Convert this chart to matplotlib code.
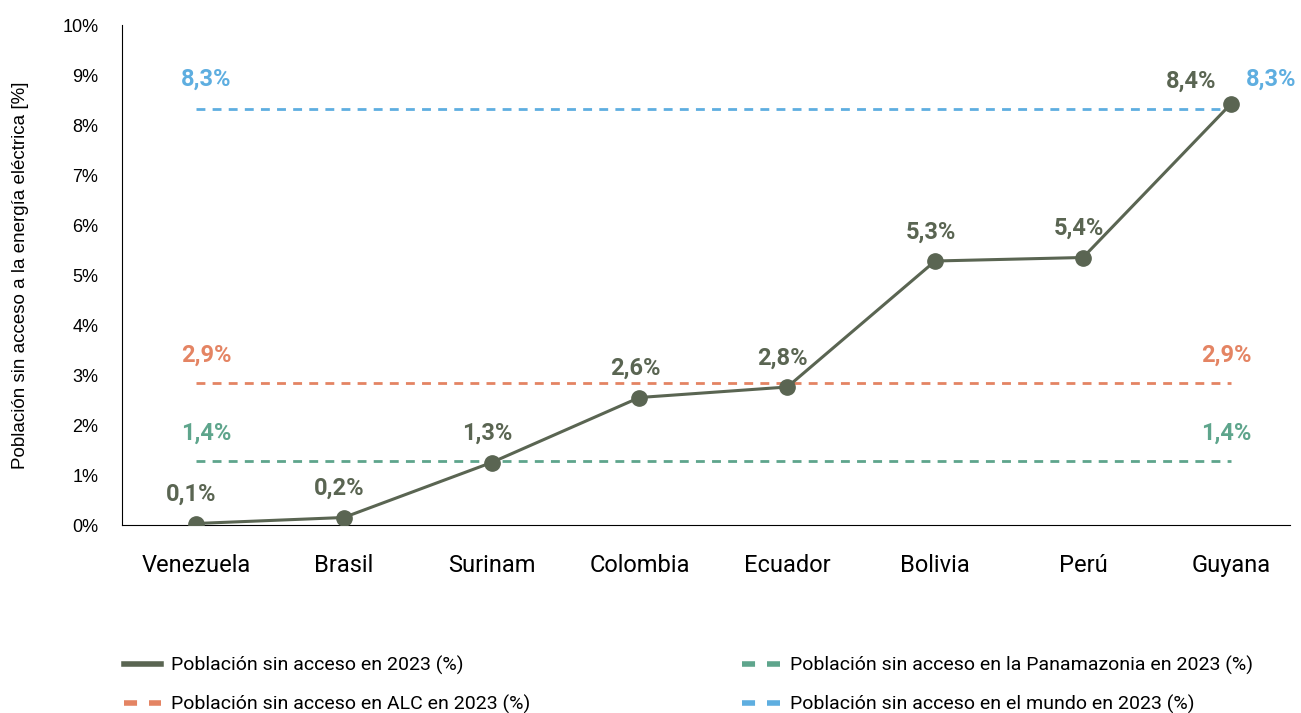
import matplotlib
matplotlib.use("Agg")
from matplotlib import pyplot as plt
from matplotlib.lines import Line2D

plt.rcParams['font.family'] = ['Roboto', 'DejaVu Sans']

# data
paises = ['Venezuela', 'Brasil', 'Surinam', 'Colombia', 'Ecuador', 'Bolivia', 'Perú', 'Guyana']
sin_acceso = [0.03, 0.15, 1.25, 2.55, 2.76, 5.28, 5.35, 8.42]
etiquetas = ['0,1%', '0,2%', '1,3%', '2,6%', '2,8%', '5,3%', '5,4%', '8,4%']
alc = 2.84
panamazonia = 1.29
mundo = 8.32
ref_etiquetas = ['2,9%', '1,4%', '8,3%']
yticks = [0, 1, 2, 3, 4, 5, 6, 7, 8, 9, 10]

c_main = '#5a6552'
c_alc = '#e48463'
c_pan = '#5ea58c'
c_mundo = '#5eaee0'

fig = plt.figure(figsize=(13.01, 7.13), dpi=100)
ax = fig.add_axes([122/1301, 188/713, 1168/1301, 500/713])

x = list(range(len(paises)))
dash = (0, (3.2, 2.6))
ax.plot([0, 7], [mundo, mundo], color=c_mundo, lw=2, linestyle=dash)
ax.plot([0, 7], [alc, alc], color=c_alc, lw=2, linestyle=dash)
ax.plot([0, 7], [panamazonia, panamazonia], color=c_pan, lw=2, linestyle=dash)
ax.plot(x, sin_acceso, color=c_main, lw=2.2, marker='o', markersize=11, zorder=5)

# data labels
for i, (v, t) in enumerate(zip(sin_acceso, etiquetas)):
    if i == 7:
        ax.text(i - 0.27, v + 0.45, t, color=c_main, fontsize=17, fontweight='bold', ha='center', va='center')
    else:
        ax.text(i - 0.03, v + 0.58, t, color=c_main, fontsize=17, fontweight='bold', ha='center', va='center')

# reference labels
for val, t, col in zip([alc, panamazonia, mundo], ref_etiquetas, [c_alc, c_pan, c_mundo]):
    off = 0.55 if val != mundo else 0.6
    ax.text(0.07, val + off, t, color=col, fontsize=17, fontweight='bold', ha='center', va='center')
    ax.text(7.27 if val == mundo else 6.97, val + off, t, color=col, fontsize=17, fontweight='bold', ha='center', va='center')

ax.set_xlim(-0.5, 7.4)
ax.set_ylim(0, 10)
ax.set_yticks(yticks)
ax.set_yticklabels([f'{t}%' for t in yticks], fontsize=13, family='Liberation Sans')
ax.set_xticks(x)
ax.set_xticklabels(paises, fontsize=17)
ax.tick_params(axis='both', length=0)
ax.tick_params(axis='y', pad=17)
ax.tick_params(axis='x', pad=21)
ax.spines['top'].set_visible(False)
ax.spines['right'].set_visible(False)
ax.set_ylabel('Población sin acceso a la energía eléctrica [%]', fontsize=13.5, family='Liberation Sans', labelpad=24)

leg_dash = (0, (2.35, 2.15))
handles = [
    Line2D([], [], color=c_main, lw=4),
    Line2D([], [], color=c_alc, lw=4, linestyle=leg_dash),
    Line2D([], [], color=c_pan, lw=4, linestyle=leg_dash),
    Line2D([], [], color=c_mundo, lw=4, linestyle=leg_dash),
]
labels = ['Población sin acceso en 2023 (%)',
          'Población sin acceso en ALC en 2023 (%)',
          'Población sin acceso en la Panamazonia en 2023 (%)',
          'Población sin acceso en el mundo en 2023 (%)']
fig.legend(handles, labels, ncol=2, loc='lower left', bbox_to_anchor=(106/1301, -0.026),
           frameon=False, fontsize=14, handlelength=1.95, columnspacing=10.9,
           labelspacing=1.0, handletextpad=0.5)

plt.savefig('out.png', dpi=100)
